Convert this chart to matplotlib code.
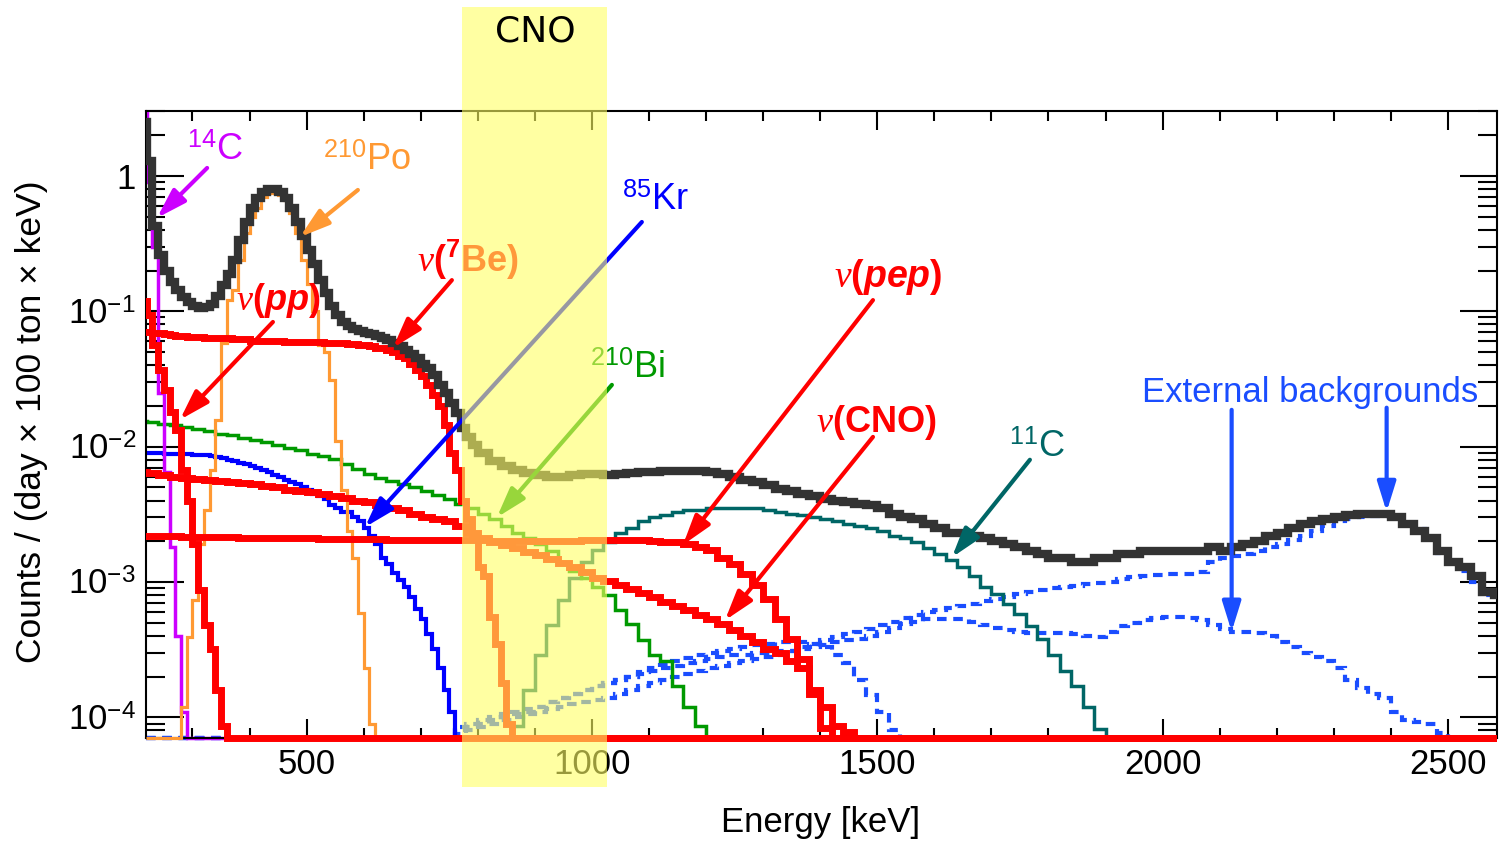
import matplotlib.pyplot as plt
import numpy as np
from matplotlib.patches import Rectangle
from matplotlib.transforms import Bbox, TransformedBbox, blended_transform_factory

plt.rcParams['font.family'] = ['Liberation Sans', 'DejaVu Sans']
plt.rcParams['mathtext.fontset'] = 'custom'
plt.rcParams['mathtext.rm'] = 'Liberation Sans'
plt.rcParams['mathtext.it'] = 'Liberation Serif:italic'
plt.rcParams['mathtext.bf'] = 'Liberation Sans:bold'
plt.rcParams['mathtext.bfit'] = 'Liberation Sans:bold:italic'

# spectra in counts / (day x 100 ton x keV), fixed-width bins from a start energy
# total fit: 10 keV bins from 210 to 800, then 20 keV bins from 800 to 2600
total_lo = [2.5, 1.3, 0.43, 0.26, 0.20, 0.165, 0.144, 0.127, 0.117, 0.110,
            0.106, 0.107, 0.114, 0.13, 0.156, 0.19, 0.24, 0.337, 0.457, 0.58,
            0.69, 0.76, 0.80, 0.80, 0.76, 0.69, 0.58, 0.457, 0.36, 0.284,
            0.224, 0.17, 0.137, 0.11, 0.094, 0.083, 0.078, 0.074, 0.072, 0.069,
            0.068, 0.066, 0.064, 0.0614, 0.058, 0.055, 0.052, 0.048, 0.045, 0.041,
            0.038, 0.034, 0.0285, 0.025, 0.021, 0.0178, 0.0137, 0.0117, 0.0103]
total_hi = [0.0090, 0.0079, 0.0072, 0.0067, 0.0064, 0.0062, 0.0060, 0.0060, 0.0062, 0.0063,
            0.0063, 0.0062, 0.0063, 0.0064, 0.0065, 0.0065, 0.0066, 0.0066, 0.0066, 0.0066,
            0.0065, 0.0063, 0.0060, 0.0057, 0.0055, 0.0052, 0.0049, 0.0047, 0.0045, 0.0043,
            0.0041, 0.0040, 0.0039, 0.0038, 0.0037, 0.0035, 0.0032, 0.0030, 0.0029, 0.0027,
            0.0025, 0.0023, 0.0023, 0.0022, 0.0021, 0.0020, 0.0019, 0.0018, 0.0017, 0.0016,
            0.0015, 0.0015, 0.0014, 0.0014, 0.0015, 0.0015, 0.0016, 0.0016, 0.0017, 0.0017,
            0.0017, 0.0017, 0.0017, 0.0017, 0.0018, 0.0017, 0.0018, 0.0019, 0.0020, 0.0022,
            0.0023, 0.0025, 0.0027, 0.0028, 0.0029, 0.0030, 0.0031, 0.0032, 0.0032, 0.0032,
            0.0030, 0.0027, 0.0024, 0.0021, 0.0017, 0.0014, 0.0013, 0.0011, 0.00085, 0.0008]

# 10 keV bins
c14 = [3.2, 0.9, 0.30, 0.025, 0.0065, 0.0018, 0.0004, 0.00011]            # from 210
po210 = [0.00012, 0.00039, 0.00074, 0.0019, 0.0034, 0.0067, 0.0158, 0.058, 0.121, 0.144,
         0.24, 0.38, 0.50, 0.58, 0.70, 0.75, 0.75, 0.72, 0.665, 0.53,
         0.38, 0.24, 0.16, 0.10, 0.056, 0.050, 0.031, 0.011, 0.0048, 0.0024,
         0.0015, 0.00059, 0.00023, 0.00009]                                 # from 280
nu_pp = [0.12, 0.094, 0.056, 0.037, 0.026, 0.018, 0.0133, 0.0067, 0.0040, 0.0019,
         0.00088, 0.00048, 0.00032, 0.00016, 0.000087]                      # from 210
nu_be7 = [0.070, 0.070, 0.069, 0.069, 0.068, 0.067, 0.066, 0.066, 0.065, 0.065,
          0.065, 0.064, 0.064, 0.064, 0.063, 0.063, 0.062, 0.062, 0.062, 0.0605,
          0.0605, 0.0605, 0.0605, 0.0605, 0.0605, 0.059, 0.059, 0.059, 0.059, 0.059,
          0.059, 0.059, 0.058, 0.058, 0.058, 0.058, 0.0575, 0.0575, 0.056, 0.056,
          0.055, 0.054, 0.0535, 0.052, 0.050, 0.047, 0.045, 0.041, 0.037, 0.033,
          0.0285, 0.024, 0.020, 0.0145, 0.009, 0.0067, 0.0040, 0.0029, 0.0021, 0.0013,
          0.0011, 0.00055, 0.00035, 0.00018, 0.00009]                       # from 210
kr85 = [0.0090, 0.0090, 0.0090, 0.0090, 0.0089, 0.0089, 0.0088, 0.0088, 0.0088, 0.0087,
        0.0087, 0.0087, 0.0086, 0.0084, 0.0082, 0.0080, 0.0078, 0.0076, 0.0074, 0.0072,
        0.0069, 0.0067, 0.0065, 0.0062, 0.0060, 0.0057, 0.0055, 0.0053, 0.0050, 0.0048,
        0.0045, 0.0043, 0.0041, 0.0037, 0.0035, 0.0033, 0.0033, 0.0030, 0.0028, 0.0025,
        0.0022, 0.0019, 0.0015, 0.00135, 0.00116, 0.00103, 0.00092, 0.00078, 0.00063, 0.00053,
        0.00041, 0.00032, 0.00023, 0.00016, 0.00011]                        # from 210

# 20 keV bins
bi210 = [0.0155, 0.0152, 0.0147, 0.0144, 0.0139, 0.0135, 0.0131, 0.0125, 0.0121, 0.0116,
         0.0112, 0.0108, 0.0102, 0.0098, 0.0094, 0.0089, 0.0085, 0.0081, 0.0075, 0.0068,
         0.0063, 0.0059, 0.0056, 0.0053, 0.0050, 0.0047, 0.0044, 0.0041, 0.0038, 0.0035,
         0.0032, 0.0029, 0.0026, 0.0023, 0.0021, 0.0019, 0.0017, 0.0014, 0.0012, 0.00107,
         0.00092, 0.00080, 0.00062, 0.00049, 0.00037, 0.00029, 0.00026, 0.00017, 0.00012, 0.000087]  # from 200
nu_pep = [0.00218, 0.00218, 0.00217, 0.00217, 0.00216, 0.00216, 0.00215, 0.00215, 0.00214, 0.00213,
          0.00213, 0.00212, 0.00212, 0.00211, 0.00210, 0.00210, 0.00209, 0.00209, 0.00208, 0.00208,
          0.00207, 0.00207, 0.00206, 0.00206, 0.00205, 0.00205, 0.00204, 0.00204, 0.00204, 0.00203,
          0.00203, 0.00202, 0.00202, 0.00201, 0.00201, 0.00201, 0.00201, 0.00201, 0.00202, 0.00203,
          0.00204, 0.00204, 0.00204, 0.00204, 0.00204, 0.00200, 0.00198, 0.00196, 0.00191, 0.00181,
          0.00172, 0.00151, 0.00135, 0.00115, 0.00095, 0.00075, 0.00053, 0.00038, 0.00027, 0.00015,
          0.000083]                                                         # from 200
nu_cno = [0.0065, 0.0064, 0.0062, 0.0060, 0.0059, 0.0058, 0.0057, 0.0056, 0.0055, 0.0054,
          0.0053, 0.0051, 0.0050, 0.0048, 0.0047, 0.0046, 0.0045, 0.0043, 0.0042, 0.0040,
          0.0039, 0.0037, 0.0035, 0.0034, 0.0032, 0.0030, 0.0029, 0.0028, 0.0026, 0.0023,
          0.0021, 0.00199, 0.00187, 0.00177, 0.00168, 0.00158, 0.00148, 0.00139, 0.00128, 0.00118,
          0.00107, 0.00102, 0.00095, 0.00089, 0.00083, 0.00078, 0.00071, 0.00066, 0.00062, 0.00057,
          0.00053, 0.00049, 0.00044, 0.00040, 0.00036, 0.00032, 0.00030, 0.00026, 0.00023, 0.00016,
          0.00012, 0.000087, 0.000078]                                      # from 200
c11 = [0.000087, 0.00016, 0.00029, 0.00048, 0.00074, 0.00107, 0.00141, 0.00173, 0.00199, 0.0023,
       0.0025, 0.0028, 0.0030, 0.0031, 0.0033, 0.0034, 0.0034, 0.0035, 0.0035, 0.0035,
       0.0035, 0.0035, 0.0034, 0.0033, 0.0032, 0.0031, 0.0030, 0.0029, 0.0028, 0.0027,
       0.0026, 0.0025, 0.0024, 0.0022, 0.0021, 0.00196, 0.00177, 0.00162, 0.00146, 0.00128,
       0.00111, 0.00092, 0.00081, 0.00069, 0.00058, 0.00047, 0.00038, 0.00029, 0.00022, 0.00017,
       0.00012, 0.000082]                                                   # from 860
ext_tl208 = [7.5e-5, 8e-5, 8.5e-5, 9e-5, 9.5e-5, 1.0e-4, 1.05e-4, 1.1e-4, 1.15e-4, 1.2e-4,
             1.25e-4, 1.3e-4, 1.35e-4, 1.4e-4, 1.5e-4, 1.6e-4, 1.7e-4, 1.8e-4, 1.9e-4, 2.0e-4,
             2.1e-4, 2.2e-4, 2.3e-4, 2.4e-4, 2.5e-4, 2.6e-4, 2.7e-4, 2.8e-4, 2.9e-4, 3.1e-4,
             3.3e-4, 3.5e-4, 3.7e-4, 3.9e-4, 4.1e-4, 4.3e-4, 4.5e-4, 4.8e-4, 5.1e-4, 5.4e-4,
             5.7e-4, 6.0e-4, 6.2e-4, 6.4e-4, 6.6e-4, 6.9e-4, 7.2e-4, 7.5e-4, 7.8e-4, 8.1e-4,
             8.4e-4, 8.7e-4, 9.0e-4, 9.2e-4, 9.4e-4, 9.6e-4, 9.8e-4, 1.0e-3, 1.05e-3, 1.08e-3,
             1.1e-3, 1.12e-3, 1.14e-3, 1.15e-3, 1.15e-3, 1.18e-3, 1.4e-3, 1.5e-3, 1.55e-3, 1.6e-3,
             1.7e-3, 1.8e-3, 1.9e-3, 2.05e-3, 2.2e-3, 2.4e-3, 2.6e-3, 2.8e-3, 2.9e-3, 3.0e-3,
             3.05e-3, 3.05e-3, 2.95e-3, 2.7e-3, 2.45e-3, 2.15e-3, 1.65e-3, 1.4e-3, 1.2e-3, 1.0e-3,
             8.0e-4, 7.4e-4]                                                # from 760
ext_bi214 = [8.5e-5, 9.0e-5, 9.5e-5, 1.0e-4, 1.05e-4, 1.1e-4, 1.15e-4, 1.2e-4, 1.3e-4, 1.4e-4,
             1.5e-4, 1.6e-4, 1.7e-4, 1.8e-4, 1.9e-4, 2.0e-4, 2.1e-4, 2.2e-4, 2.3e-4, 2.4e-4,
             2.5e-4, 2.6e-4, 2.7e-4, 2.8e-4, 2.9e-4, 2.9e-4, 3.0e-4, 3.0e-4, 3.1e-4, 3.1e-4,
             3.2e-4, 3.3e-4, 3.4e-4, 3.6e-4, 3.7e-4, 3.8e-4, 4.0e-4, 4.3e-4, 4.6e-4, 4.9e-4,
             5.1e-4, 5.3e-4, 5.3e-4, 5.3e-4, 5.3e-4, 5.1e-4, 4.8e-4, 4.6e-4, 4.4e-4, 4.3e-4,
             4.2e-4, 4.2e-4, 4.2e-4, 4.2e-4, 4.1e-4, 4.0e-4, 3.9e-4, 4.3e-4, 4.7e-4, 5.0e-4,
             5.2e-4, 5.4e-4, 5.5e-4, 5.5e-4, 5.4e-4, 5.2e-4, 4.8e-4, 4.5e-4, 4.3e-4, 4.3e-4,
             4.2e-4, 4.0e-4, 3.6e-4, 3.3e-4, 3.0e-4, 2.8e-4, 2.6e-4, 2.3e-4, 1.9e-4, 1.65e-4,
             1.5e-4, 1.4e-4, 1.1e-4, 9.5e-5, 9.2e-5, 9.0e-5, 7.6e-5]              # from 760
ext_k40 = [8e-5, 8.5e-5, 9e-5, 9.5e-5, 1.0e-4, 1.05e-4, 1.1e-4, 1.2e-4, 1.3e-4, 1.4e-4,
           1.5e-4, 1.6e-4, 1.7e-4, 1.8e-4, 1.9e-4, 2.0e-4, 2.15e-4, 2.3e-4, 2.45e-4, 2.6e-4,
           2.75e-4, 2.9e-4, 3.0e-4, 3.1e-4, 3.2e-4, 3.3e-4, 3.4e-4, 3.5e-4, 3.6e-4, 3.6e-4,
           3.6e-4, 3.5e-4, 3.3e-4, 2.9e-4, 2.5e-4, 1.9e-4, 1.45e-4, 1.1e-4, 8e-5]   # from 760

XMIN, XMAX = 218, 2586
YMIN, YMAX = 7e-5, 3.02

fig = plt.figure(figsize=(15, 8.46), dpi=100)
ax = fig.add_axes([0.0971, 0.1273, 0.9009, 0.7415])
ax.set_yscale('log')
ax.set_xlim(XMIN, XMAX)
ax.set_ylim(YMIN, YMAX)

# lines may spill a little below the frame, like empty bins sitting on the axis
clip = TransformedBbox(Bbox([[0, -0.03], [1, 1]]), ax.transAxes)


def edges_from(start, width, n):
    return start + width * np.arange(n + 1)


def hist(edges, values, pad_left=True, **kw):
    edges = np.asarray(edges, dtype=float)
    vals = list(values)
    if pad_left and edges[0] > XMIN:
        edges = np.r_[XMIN, edges]
        vals = [YMIN] + vals
    if edges[-1] < XMAX:
        edges = np.r_[edges, XMAX]
        vals = vals + [YMIN]
    sp = ax.stairs(vals, edges, baseline=None, fill=False, **kw)
    sp.set_clip_path(None)
    sp.set_clip_box(clip)
    return sp


dash = (0, (2.3, 1.6))
ext_col = '#1a4dff'
hist(edges_from(760, 20, len(ext_bi214)), ext_bi214, color=ext_col, lw=3, linestyle=dash, zorder=2)
hist(edges_from(760, 20, len(ext_k40)), ext_k40, color=ext_col, lw=3, linestyle=dash, zorder=2)
hist(edges_from(760, 20, len(ext_tl208)), ext_tl208, color=ext_col, lw=3, linestyle=dash, zorder=2)
hist(edges_from(860, 20, len(c11)), c11, pad_left=False, color='#006666', lw=2.5, zorder=2.2)
hist(edges_from(200, 20, len(bi210)), bi210, color='#009900', lw=2.5, zorder=2.3)
hist(edges_from(210, 10, len(kr85)), kr85, color='#0000ff', lw=3, zorder=2.4)
hist(edges_from(210, 10, len(c14)), c14, color='#cc00ff', lw=2.5, zorder=2.5)
hist(edges_from(280, 10, len(po210)), po210, color='#ff9933', lw=2.3, zorder=2.6)
for vals, start, width in [(nu_cno, 200, 20), (nu_pep, 200, 20), (nu_be7, 210, 10), (nu_pp, 210, 10)]:
    hist(edges_from(start, width, len(vals)), vals, color='#ff0000', lw=5, zorder=3)
total_edges = np.r_[edges_from(210, 10, len(total_lo))[:-1], edges_from(800, 20, len(total_hi))]
hist(total_edges, total_lo + total_hi, color='#333333', lw=6, zorder=4)

# axes styling
ax.set_xticks([500, 1000, 1500, 2000, 2500])
ax.set_xticks(np.arange(300, 2600, 100), minor=True)
ax.set_yticks([1e-4, 1e-3, 1e-2, 1e-1, 1],
              ['$10^{-4}$', '$10^{-3}$', '$10^{-2}$', '$10^{-1}$', '1'])
ax.yaxis.set_minor_locator(plt.LogLocator(base=10, subs=np.arange(2, 10), numticks=20))
ax.yaxis.set_minor_formatter(plt.NullFormatter())
ax.tick_params(which='both', direction='in', top=True, right=True, width=1.5,
               labelsize=25, pad=7, color='black')
ax.tick_params(axis='x', which='major', length=14)
ax.tick_params(axis='x', which='minor', length=7)
ax.tick_params(axis='y', which='major', length=27)
ax.tick_params(axis='y', which='minor', length=14)
for s in ax.spines.values():
    s.set_linewidth(1.5)

fig.text(821 / 1500, 1 - 822 / 846, 'Energy [keV]', ha='center', va='center', fontsize=25)
fig.text(32 / 1500, 1 - 422 / 846, 'Counts / (day × 100 ton × keV)', rotation=90,
         ha='center', va='center', fontsize=25.5)

# labels and arrows
arrow_kw = dict(arrowstyle='-|>,head_length=0.9,head_width=0.28', lw=3,
                shrinkA=0, shrinkB=0, mutation_scale=20)
arrows = [
    ((325.7, 1.146), (237.7, 0.489), '#cc00ff'),
    ((589.9, 0.788), (488.3, 0.354), '#ff9933'),
    ((1087.5, 0.457), (602.2, 0.00254), '#0000ff'),
    ((441, 0.0834), (278, 0.0158), '#ff0000'),
    ((754.6, 0.170), (651.2, 0.0536), '#ff0000'),
    ((1035, 0.0286), (833.4, 0.0030), '#009900'),
    ((1492.5, 0.121), (1159.6, 0.00188), '#ff0000'),
    ((1492.5, 0.0118), (1233, 0.00052), '#ff0000'),
    ((1767.5, 0.0080), (1630.8, 0.00152), '#006666'),
    ((2121, 0.0187), (2121, 0.00043), ext_col),
    ((2392.6, 0.0194), (2392.6, 0.0033), ext_col),
]
for tail, head, col in arrows:
    ax.annotate('', xy=head, xytext=tail, arrowprops=dict(color=col, **arrow_kw), zorder=6)

labels = [
    (340, 1.31, '$^{14}$C', '#cc00ff', 26),
    (606, 1.107, '$^{210}$Po', '#ff9933', 26),
    (1112, 0.561, '$^{85}$Kr', '#0000ff', 26),
    (450, 0.102, r'$\nu\mathbf{(}\mathbfit{pp}\mathbf{)}$', '#ff0000', 26),
    (782.6, 0.195, r'$\nu\mathbf{(^{7}Be)}$', '#ff0000', 26),
    (1063, 0.0322, '$^{210}$Bi', '#009900', 26),
    (1518.6, 0.151, r'$\nu\mathbf{(}\mathbfit{pep}\mathbf{)}$', '#ff0000', 27),
    (1499, 0.0128, r'$\nu\mathbf{(CNO)}$', '#ff0000', 26),
    (1779.7, 0.0084, '$^{11}$C', '#006666', 26),
    (2258, 0.0214, 'External backgrounds', ext_col, 25),
]
for x, y, s, col, fs in labels:
    ax.text(x, y, s, color=col, fontsize=fs, ha='center', va='baseline', zorder=7)

# CNO window
band = Rectangle((772, 1 - 787 / 846), 254, 780 / 846,
                 transform=blended_transform_factory(ax.transData, fig.transFigure),
                 facecolor='#ffff64', edgecolor='none', alpha=0.6, zorder=10)
fig.add_artist(band)
fig.text(535 / 1500, 1 - 32 / 846, 'CNO', ha='center', va='center', fontsize=26,
         family='DejaVu Sans', zorder=12)

fig.savefig('out.png', dpi=100)
